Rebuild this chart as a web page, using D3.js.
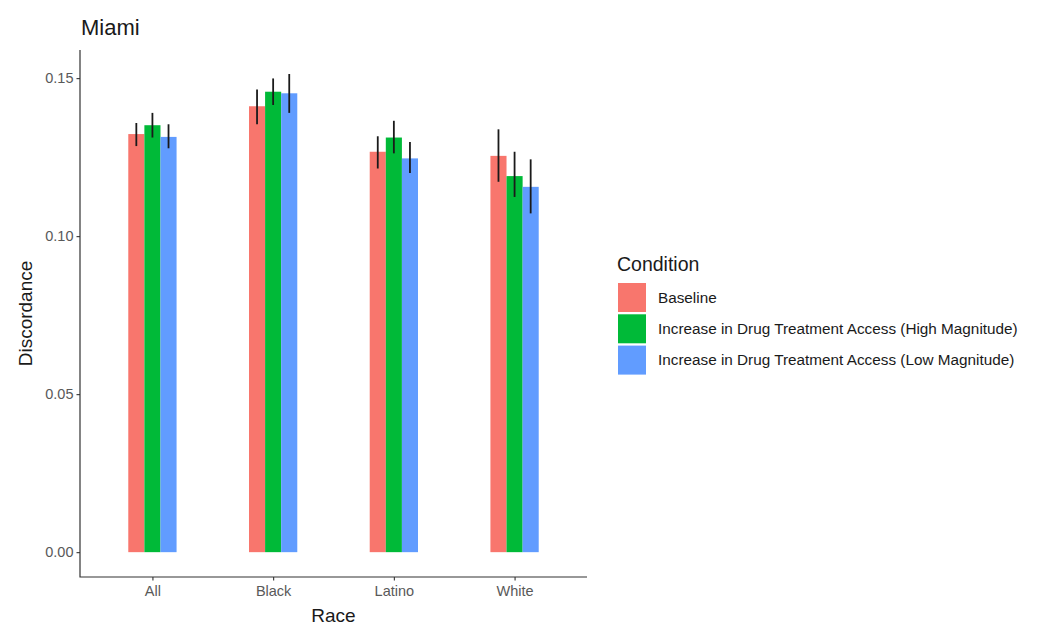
<!DOCTYPE html>
<html><head><meta charset="utf-8">
<script src="https://cdn.jsdelivr.net/npm/d3@7"></script>
<style>body{margin:0;background:#fff;} svg{display:block;font-family:"Liberation Sans",Arial,sans-serif;}</style>
</head><body>
<svg id="c" width="1050" height="633"></svg>
<script>
const categories = ["All","Black","Latino","White"];
const conditions = ["Baseline","Increase in Drug Treatment Access (High Magnitude)","Increase in Drug Treatment Access (Low Magnitude)"];
const colors = ["#F8766D","#00BA38","#619CFF"];
const baselineVals = [0.1323,0.1411,0.1267,0.1254];
const highVals = [0.1351,0.1457,0.1312,0.1190];
const lowVals = [0.1314,0.1452,0.1246,0.1156];
const baselineLo = [0.1285,0.1354,0.1214,0.1172];
const baselineHi = [0.1358,0.1464,0.1316,0.1338];
const highLo = [0.1312,0.1415,0.1262,0.1124];
const highHi = [0.1390,0.1499,0.1365,0.1267];
const lowLo = [0.1278,0.1390,0.1200,0.1072];
const lowHi = [0.1354,0.1513,0.1298,0.1243];
const yTicks = [0.00,0.05,0.10,0.15];

const series = [
  {name:conditions[0], vals:baselineVals, lo:baselineLo, hi:baselineHi, color:colors[0]},
  {name:conditions[1], vals:highVals, lo:highLo, hi:highHi, color:colors[1]},
  {name:conditions[2], vals:lowVals, lo:lowLo, hi:lowHi, color:colors[2]}
];
const data = [];
categories.forEach((c,i)=>series.forEach((s,j)=>data.push({cat:c, cond:s.name, j, v:s.vals[i], lo:s.lo[i], hi:s.hi[i], color:s.color})));

const svg = d3.select("#c");
const L=80, R=587, T=50, B=577;
const n = categories.length;
const step = (R-L)/(n-1+1.2);
const x = d3.scalePoint().domain(categories).range([L+0.6*step, R-0.6*step]);
const groupW = 0.4*step;
const x1 = d3.scaleBand().domain(d3.range(3)).range([-groupW/2, groupW/2]).padding(0);
const y = d3.scaleLinear().domain([-0.00786, 0.1589]).range([B, T]);

// bars
svg.append("g").selectAll("rect").data(data).join("rect")
  .attr("x", d=>x(d.cat)+x1(d.j))
  .attr("width", x1.bandwidth())
  .attr("y", d=>y(d.v))
  .attr("height", d=>y(0)-y(d.v))
  .attr("fill", d=>d.color);
// error bars
svg.append("g").selectAll("line").data(data).join("line")
  .attr("x1", d=>x(d.cat)+x1(d.j)+x1.bandwidth()/2)
  .attr("x2", d=>x(d.cat)+x1(d.j)+x1.bandwidth()/2)
  .attr("y1", d=>y(d.lo)).attr("y2", d=>y(d.hi))
  .attr("stroke","#1a1a1a").attr("stroke-width",1.8);

// axes
const yAxis = svg.append("g").attr("transform",`translate(${L},0)`)
  .call(d3.axisLeft(y).tickValues(yTicks).tickFormat(d3.format(".2f")).tickSize(3.5).tickPadding(3));
const xAxis = svg.append("g").attr("transform",`translate(0,${B})`)
  .call(d3.axisBottom(x).tickSize(3.5).tickPadding(5));
[yAxis,xAxis].forEach(a=>{
  a.select(".domain").remove();
  a.selectAll(".tick line").attr("stroke","#333").attr("stroke-width",1.1);
  a.selectAll(".tick text").attr("fill","#595959").style("font-size","14.5px").style("font-family","Liberation Sans, Arial, sans-serif");
});
svg.append("path").attr("d",`M${L},${T}V${B}H${R}`).attr("fill","none").attr("stroke","#333").attr("stroke-width",1.2);

// titles
svg.append("text").attr("x",81).attr("y",35).text("Miami").attr("fill","#1a1a1a").style("font-size","22px");
svg.append("text").attr("x",(L+R)/2).attr("y",622).attr("text-anchor","middle").text("Race").attr("fill","#1a1a1a").style("font-size","19px");
svg.append("text").attr("transform",`translate(32,${(T+B)/2+0}) rotate(-90)`).attr("text-anchor","middle").text("Discordance").attr("fill","#1a1a1a").style("font-size","19px");

// legend
const lg = svg.append("g");
lg.append("text").attr("x",617).attr("y",271).text("Condition").attr("fill","#1a1a1a").style("font-size","19.5px");
series.forEach((s,i)=>{
  const yy = 283 + i*31.3;
  lg.append("rect").attr("x",618).attr("y",yy).attr("width",28).attr("height",29).attr("fill",s.color);
  lg.append("text").attr("x",658).attr("y",yy+14.5).attr("dy","0.35em").text(s.name).attr("fill","#1a1a1a").style("font-size","15.3px");
});
</script>
</body></html>
